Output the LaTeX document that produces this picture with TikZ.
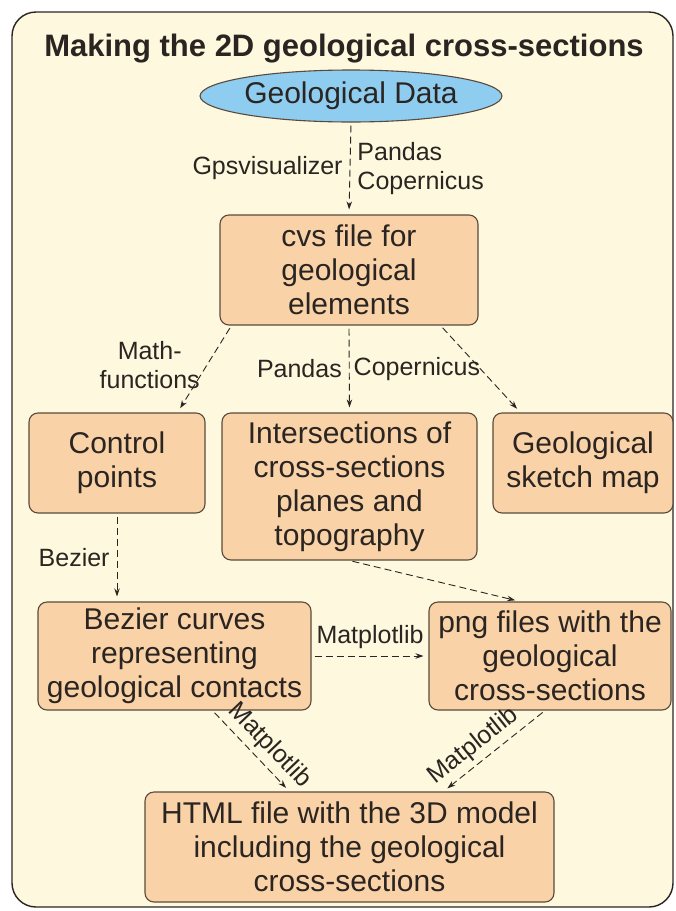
\documentclass[tikz,border=0pt]{standalone}
\usepackage{fontspec}
\setmainfont{Liberation Sans}
\usetikzlibrary{arrows.meta,calc,shapes.geometric}
\definecolor{paper}{HTML}{FDF8DE}
\definecolor{peach}{HTML}{F9D2A8}
\definecolor{sky}{HTML}{8FCDF0}
\definecolor{ink}{HTML}{2B2522}
\definecolor{edge}{HTML}{5A4A3E}
\tikzset{
  box/.style={draw=edge,fill=peach,rounded corners=9pt,line width=1.1pt,align=center,
              inner sep=1pt,text=ink,font=\fontsize{30}{34}\selectfont},
  datum/.style={ellipse,draw=edge,fill=sky,line width=1.1pt,inner sep=0pt,text=ink,
                font=\fontsize{30}{34}\selectfont},
  flow/.style={-{Stealth[length=8pt,width=5.5pt]},dash pattern=on 7pt off 4pt,
               line width=0.9pt,draw=ink,shorten <=3pt,shorten >=5pt},
  tool/.style={font=\fontsize{25}{29}\selectfont,text=ink,inner xsep=7pt,inner ysep=3pt}
}

\begin{document}
\begin{tikzpicture}[x=1pt,y=-1pt]
  \useasboundingbox (0,0) rectangle (676,911);
  % Frame and title.
  \draw[fill=paper,draw=ink,line width=1.4pt,rounded corners=24pt] (12,12) rectangle (673,907);
  \node[font=\bfseries\fontsize{31}{36}\selectfont,text=ink,anchor=base] (title) at (344,56)
    {Making the 2D geological cross-sections};

  \node[datum,minimum width=262pt,minimum height=52pt] (data) at (351,96) {Geological Data};

  \node[box,minimum width=258pt,minimum height=110pt] (cvs) at (349,270)
    {cvs file for\\geological\\elements};
  \node[box,minimum width=176pt,minimum height=100pt] (control) at (117,463)
    {Control\\points};
  \node[box,minimum width=255pt,minimum height=147pt] (inter) at (349.5,486.5)
    {Intersections of\\cross-sections\\planes and\\topography};
  \node[box,minimum width=180pt,minimum height=100pt] (sketch) at (583,463)
    {Geological\\sketch map};
  \node[box,minimum width=273pt,minimum height=108pt] (bezier) at (174.5,656)
    {Bezier curves\\representing\\geological contacts};
  \node[box,minimum width=242pt,minimum height=108pt] (png) at (550,656)
    {png files with the\\geological\\cross-sections};
  \node[box,minimum width=409pt,minimum height=110pt] (html) at (349.5,847)
    {HTML file with the 3D model\\including the geological\\cross-sections};

  % Dashed flows with the tools on them.
  \draw[flow] (data.south) -- node[tool,left]{Gpsvisualizer}
    node[tool,right,align=left]{Pandas\\Copernicus} (cvs.north);
  \draw[flow] ($(cvs.south west)+(12,0)$) -- node[tool,left,align=center,pos=.45]{Math-\\functions}
    ($(control.north east)+(-28,0)$);
  \draw[flow] (cvs.south) -- node[tool,left]{Pandas} node[tool,right,inner xsep=4pt]{Copernicus}
    (inter.north);
  \draw[flow] ($(cvs.south east)+(-38,0)$) -- ($(sketch.north west)+(28,0)$);
  \draw[flow] (control.south) -- node[tool,left]{Bezier} (control.south |- bezier.north);
  \draw[flow] (inter.south) -- ($(png.north)+(-30,0)$);
  \draw[flow] (bezier.east) -- node[tool,above=4pt,inner xsep=2pt]{Matplotlib} (png.west);
  \draw[flow] ($(bezier.south)+(38,0)$) -- node[tool,sloped,above=2pt,pos=.58,inner xsep=2pt]{Matplotlib}
    ($(html.north)+(-60,0)$);
  \draw[flow] ($(png.south)+(-5,0)$) -- node[tool,sloped,above=2pt,pos=.6,inner xsep=2pt]{Matplotlib}
    ($(html.north)+(94,0)$);
\end{tikzpicture}
\end{document}
